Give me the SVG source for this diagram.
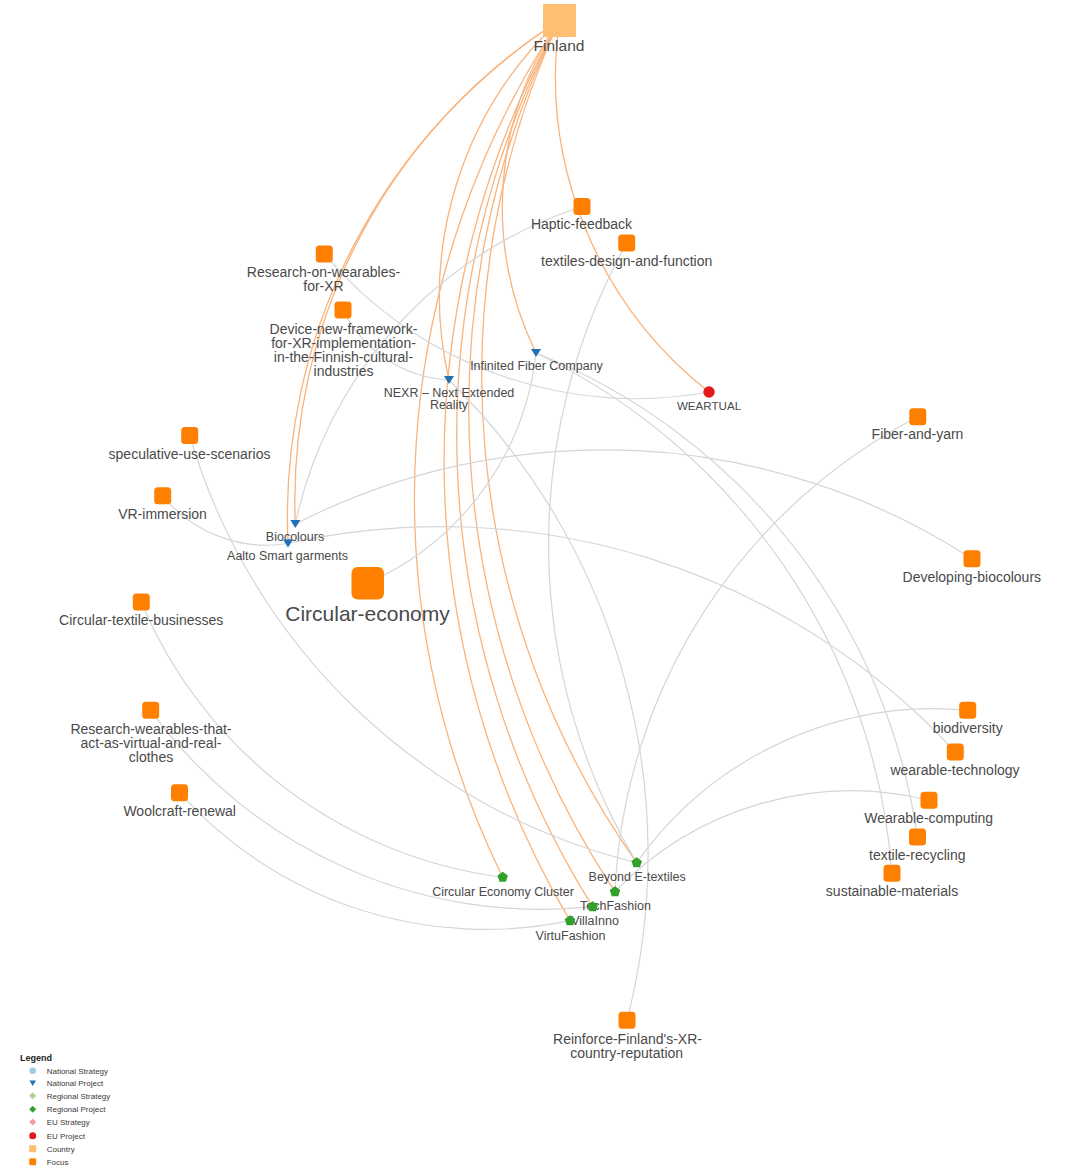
<svg xmlns="http://www.w3.org/2000/svg" xmlns:xlink="http://www.w3.org/1999/xlink" width="1071" height="1171" viewBox="0 0 1071 1171">
<style>
.bg{fill:#ffffff}
.e{fill:none;stroke:#d6d6d6;stroke-width:1.2}
.eo{fill:none;stroke:#f9b37c;stroke-width:1.3}
.focus{fill:#ff8000}
.country{fill:#ffbf73}
.proj{fill:#2271b3}
.reg{fill:#33a02c}
.eu{fill:#e31a1c}
text{font-family:"Liberation Sans",Arial,sans-serif;fill:#4a4a4a;text-anchor:middle}
.fl{font-size:14px}
.pl{font-size:12.5px}
.sm{font-size:11.6px}
.big{font-size:21px}
.cl{font-size:15.5px}
.lg{font-size:8px;text-anchor:start;fill:#3a3a3a}
.lgt{font-size:9px;font-weight:bold;text-anchor:start;fill:#222}
</style>
<defs>
<rect id="sq" x="-8.5" y="-8.5" width="17" height="17" rx="3.5"/>
<path id="tri" d="M-5,-4 L5,-4 L0,4 Z"/>
<polygon id="pent" points="0,-5.5 5.23,-1.7 3.23,4.45 -3.23,4.45 -5.23,-1.7"/>
</defs>
<rect class="bg" x="0" y="0" width="1071" height="1171"/>

<g id="connectors">
<path class="eo" d="M559.5,20.5 A400.5,400.5 0 0,0 709,392"/>
<path class="eo" d="M559.5,20.5 A333.3,333.3 0 0,0 536,353"/>
<path class="eo" d="M559.5,20.5 A376.1,376.1 0 0,0 449,380"/>
<path class="eo" d="M559.5,20.5 A568.6,568.6 0 0,0 295.3,524"/>
<path class="eo" d="M559.5,20.5 A589.3,589.3 0 0,0 288,543.5"/>
<path class="eo" d="M559.5,20.5 A858.7,858.7 0 0,0 502.7,877.3"/>
<path class="eo" d="M559.5,20.5 A845.7,845.7 0 0,0 636.7,862.7"/>
<path class="eo" d="M559.5,20.5 A873,873 0 0,0 615,891.7"/>
<path class="eo" d="M559.5,20.5 A886.8,886.8 0 0,0 592.7,906.7"/>
<path class="eo" d="M559.5,20.5 A900.3,900.3 0 0,0 570,920.7"/>

<path class="e" d="M582,206.5 A427.8,427.8 0 0,0 295.3,524"/>
<path class="e" d="M626.7,243 A619.8,619.8 0 0,0 636.7,862.7"/>
<path class="e" d="M324.3,254 A408.7,408.7 0 0,0 709,392"/>
<path class="e" d="M343,310 A127,127 0 0,0 449,380"/>
<path class="e" d="M367.7,583 A285,285 0 0,0 536,353"/>
<path class="e" d="M627,1020.3 A664.6,664.6 0 0,0 449,380"/>
<path class="e" d="M189.7,435.5 A618.3,618.3 0 0,0 636.7,862.7"/>
<path class="e" d="M162.7,495.8 A134.1,134.1 0 0,0 288,543.5"/>
<path class="e" d="M955.3,752 A699.1,699.1 0 0,0 288,543.5"/>
<path class="e" d="M972,558.7 A677.6,677.6 0 0,0 295.3,524"/>
<path class="e" d="M141.3,602 A454.3,454.3 0 0,0 502.7,877.3"/>
<path class="e" d="M150.7,710.3 A483.7,483.7 0 0,0 592.7,906.7"/>
<path class="e" d="M179.5,792.7 A410.9,410.9 0 0,0 570,920.7"/>
<path class="e" d="M917.8,416.7 A563.3,563.3 0 0,0 615,891.7"/>
<path class="e" d="M967.7,710.3 A364.4,364.4 0 0,0 636.7,862.7"/>
<path class="e" d="M929,800.3 A327,327 0 0,0 615,891.7"/>
<path class="e" d="M917.5,837 A616.3,616.3 0 0,0 536,353"/>
<path class="e" d="M892,873.3 A630.4,630.4 0 0,0 536,353"/>
</g>

<g id="n-finland"><rect class="country" x="543" y="4" width="33" height="33" rx="1"/><text class="cl" x="559" y="51">Finland</text></g>
<g id="n-haptic"><use href="#sq" class="focus" x="582" y="206.5"/><text class="fl" x="581.5" y="229">Haptic-feedback</text></g>
<g id="n-textiles-design"><use href="#sq" class="focus" x="626.7" y="243"/><text class="fl" x="626.7" y="266">textiles-design-and-function</text></g>
<g id="n-research-xr"><use href="#sq" class="focus" x="324.3" y="254"/><text class="fl" x="323.5" y="276.5">Research-on-wearables-</text><text class="fl" x="323.5" y="291">for-XR</text></g>
<g id="n-device"><use href="#sq" class="focus" x="343" y="310"/><text class="fl" x="343.5" y="333.5">Device-new-framework-</text><text class="fl" x="343.5" y="347.5">for-XR-implementation-</text><text class="fl" x="343.5" y="361.5">in-the-Finnish-cultural-</text><text class="fl" x="343.5" y="375.5">industries</text></g>
<g id="n-infinited"><use href="#tri" class="proj" x="536" y="353"/><text class="pl" x="536.5" y="369.5">Infinited Fiber Company</text></g>
<g id="n-nexr"><use href="#tri" class="proj" x="449" y="380"/><text class="pl" x="449" y="397">NEXR – Next Extended</text><text class="pl" x="449" y="409">Reality</text></g>
<g id="n-weartual"><circle class="eu" cx="709" cy="392" r="5.7"/><text class="sm" x="709" y="410">WEARTUAL</text></g>
<g id="n-fiber"><use href="#sq" class="focus" x="917.8" y="416.7"/><text class="fl" x="917.5" y="439">Fiber-and-yarn</text></g>
<g id="n-speculative"><use href="#sq" class="focus" x="189.7" y="435.5"/><text class="fl" x="189.5" y="458.5">speculative-use-scenarios</text></g>
<g id="n-vr"><use href="#sq" class="focus" x="162.7" y="495.8"/><text class="fl" x="162.5" y="518.5">VR-immersion</text></g>
<g id="n-biocolours"><use href="#tri" class="proj" x="295.3" y="524"/><text class="pl" x="295" y="540.5">Biocolours</text></g>
<g id="n-aalto"><use href="#tri" class="proj" x="288" y="543.5"/><text class="pl" x="287.5" y="560">Aalto Smart garments</text></g>
<g id="n-dev-bio"><use href="#sq" class="focus" x="972" y="558.7"/><text class="fl" x="971.8" y="581.5">Developing-biocolours</text></g>
<g id="n-circular-economy"><rect class="focus" x="351.5" y="567" width="32.5" height="32.5" rx="6"/><text class="big" x="367.5" y="620.5">Circular-economy</text></g>
<g id="n-circ-textile"><use href="#sq" class="focus" x="141.3" y="602"/><text class="fl" x="141.2" y="625">Circular-textile-businesses</text></g>
<g id="n-research-clothes"><use href="#sq" class="focus" x="150.7" y="710.3"/><text class="fl" x="151" y="733.5">Research-wearables-that-</text><text class="fl" x="151" y="747.5">act-as-virtual-and-real-</text><text class="fl" x="151" y="761.5">clothes</text></g>
<g id="n-woolcraft"><use href="#sq" class="focus" x="179.5" y="792.7"/><text class="fl" x="179.7" y="815.5">Woolcraft-renewal</text></g>
<g id="n-biodiversity"><use href="#sq" class="focus" x="967.7" y="710.3"/><text class="fl" x="967.7" y="733">biodiversity</text></g>
<g id="n-wearable-tech"><use href="#sq" class="focus" x="955.3" y="752"/><text class="fl" x="955" y="775">wearable-technology</text></g>
<g id="n-wearable-comp"><use href="#sq" class="focus" x="929" y="800.3"/><text class="fl" x="928.7" y="822.5">Wearable-computing</text></g>
<g id="n-textile-recycling"><use href="#sq" class="focus" x="917.5" y="837"/><text class="fl" x="917.3" y="860">textile-recycling</text></g>
<g id="n-sustainable"><use href="#sq" class="focus" x="892" y="873.3"/><text class="fl" x="892" y="896">sustainable-materials</text></g>
<g id="n-beyond"><use href="#pent" class="reg" x="636.7" y="862.7"/><text class="pl" x="637.2" y="880.5">Beyond E-textiles</text></g>
<g id="n-cec"><use href="#pent" class="reg" x="502.7" y="877.3"/><text class="pl" x="503" y="895.5">Circular Economy Cluster</text></g>
<g id="n-techfashion"><use href="#pent" class="reg" x="615" y="891.7"/><text class="pl" x="615.5" y="910">TechFashion</text></g>
<g id="n-villainno"><use href="#pent" class="reg" x="592.7" y="906.7"/><text class="pl" x="595" y="924.5">VillaInno</text></g>
<g id="n-virtufashion"><use href="#pent" class="reg" x="570" y="920.7"/><text class="pl" x="570.5" y="939.5">VirtuFashion</text></g>
<g id="n-reinforce"><use href="#sq" class="focus" x="627" y="1020.3"/><text class="fl" x="627.5" y="1044">Reinforce-Finland's-XR-</text><text class="fl" x="626.7" y="1058">country-reputation</text></g>

<g id="legend">
<text class="lgt" x="20" y="1060.5">Legend</text>
<circle cx="32.7" cy="1070.7" r="3.3" fill="#9ecae1"/><text class="lg" x="46.7" y="1073.5">National Strategy</text>
<path d="M29.5,1080.5 L36,1080.5 L32.7,1086 Z" fill="#2271b3"/><text class="lg" x="46.7" y="1085.5">National Project</text>
<path d="M32.7,1092.2 L36.2,1095.7 L32.7,1099.2 L29.2,1095.7 Z" fill="#a6d78e"/><text class="lg" x="46.7" y="1098.5">Regional Strategy</text>
<path d="M32.7,1105.8 L36.2,1109.3 L32.7,1112.8 L29.2,1109.3 Z" fill="#33a02c"/><text class="lg" x="46.7" y="1112">Regional Project</text>
<path d="M32.7,1118.5 L36.2,1122 L32.7,1125.5 L29.2,1122 Z" fill="#f89a9c"/><text class="lg" x="46.7" y="1124.8">EU Strategy</text>
<circle cx="32.7" cy="1135.7" r="3.5" fill="#e31a1c"/><text class="lg" x="46.7" y="1138.5">EU Project</text>
<rect x="29.2" y="1145.2" width="7" height="7" fill="#ffbf73"/><text class="lg" x="46.7" y="1151.5">Country</text>
<rect x="29.2" y="1158.2" width="7" height="7" rx="1.5" fill="#ff8000"/><text class="lg" x="46.7" y="1164.5">Focus</text>
</g>
</svg>
